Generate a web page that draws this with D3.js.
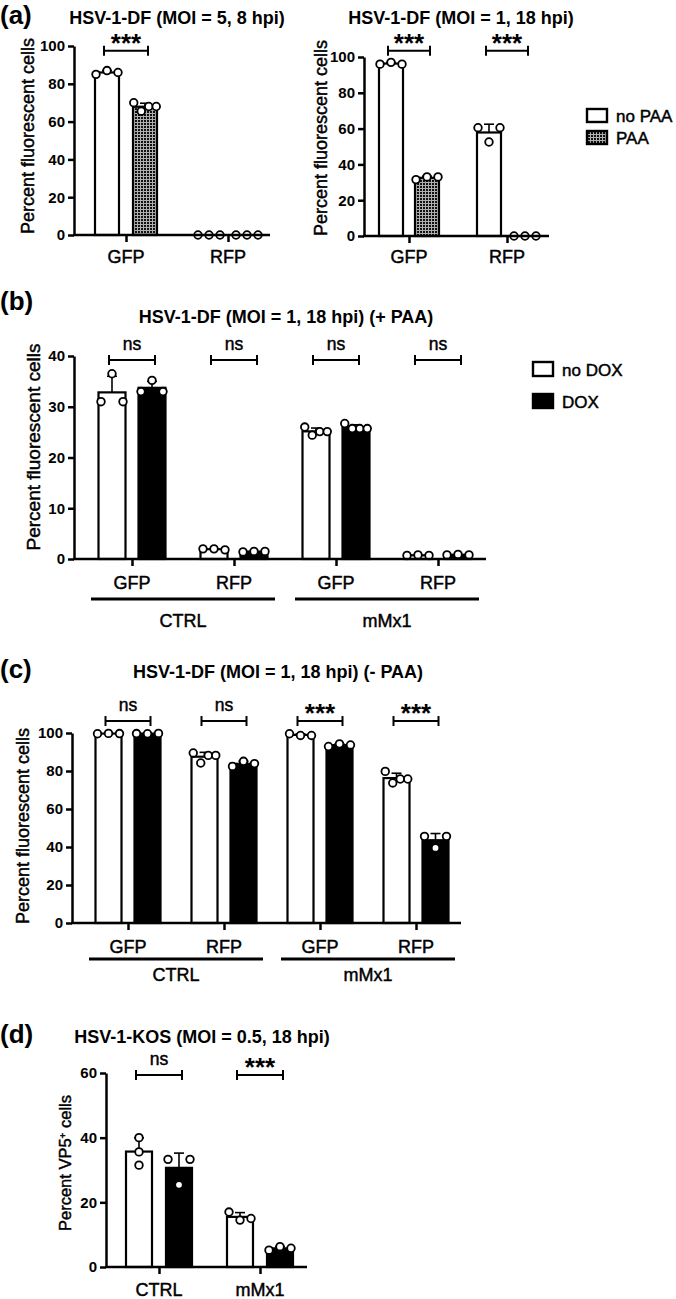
<!DOCTYPE html>
<html>
<head>
<meta charset="utf-8">
<script src="https://cdn.jsdelivr.net/npm/d3@7.9.0/dist/d3.min.js"></script>
<style>
  body { margin: 0; background: #fff; }
  svg { display: block; font-family: "Liberation Sans", Arial, sans-serif; }
  .med { stroke: #000; stroke-width: 0.45px; }
</style>
</head>
<body>
<svg id="fig" width="676" height="1299"></svg>
<script>
// ---------- Data ----------
const paaSeries = ["no PAA", "PAA"];
const doxSeries = ["no DOX", "DOX"];
const reporters = ["GFP", "RFP"];
const cellLines = ["CTRL", "mMx1"];

// (a) HSV-1-DF, MOI 5, 8 hpi  (per reporter: replicate values)
const a1NoPaa = [[85, 87, 86], [0, 0, 0]];
const a1Paa = [[70, 65.5, 68, 68], [0, 0, 0]];
const a1Sig = ["***", null];

// (a) HSV-1-DF, MOI 1, 18 hpi
const a2NoPaa = [[96, 97, 96], [60.5, 52.5, 60.5]];
const a2Paa = [[31.5, 33, 33], [0, 0, 0]];
const a2Sig = ["***", "***"];

// (b) + PAA : CTRL GFP, CTRL RFP, mMx1 GFP, mMx1 RFP
const bNoDox = [[31, 36.5, 31], [2, 2, 1.8], [26, 24.4, 25.1, 25.1], [0.7, 0.8, 0.7]];
const bDox = [[33, 35.2, 33], [1.4, 1.5, 1.5], [26.7, 25.7, 25.7, 25.7], [0.8, 0.9, 0.8]];
const bSig = ["ns", "ns", "ns", "ns"];

// (c) - PAA
const cNoDox = [[99.6, 99.8, 99.7], [89.5, 84.2, 88.2, 88.2], [99.6, 98.7, 98.7], [79.8, 73.7, 75.8, 75.8]];
const cDox = [[99.7, 99.6, 99.8], [82.4, 85.1, 83.9], [92.9, 94.3, 93.7], [45.6, 39.5, 45.6]];
const cSig = ["ns", "ns", "***", "***"];

// (d) HSV-1-KOS, VP5+
const dNoDox = [[40, 35.6, 31.5], [17, 14.5, 15]];
const dDox = [[33.3, 25.4, 33.3], [5.2, 6.3, 5.8]];
const dSig = ["ns", "***"];

const ticks100 = [0, 20, 40, 60, 80, 100];
const ticks40 = [0, 10, 20, 30, 40];
const ticks60 = [0, 20, 40, 60];

// ---------- Setup ----------
const svg = d3.select("#fig");

const defs = svg.append("defs");
const pat = defs.append("pattern")
  .attr("id", "stipple")
  .attr("patternUnits", "userSpaceOnUse")
  .attr("width", 3).attr("height", 3);
pat.append("rect").attr("width", 3).attr("height", 3).attr("fill", "#b0b0b0");
pat.append("rect").attr("width", 2).attr("height", 2).attr("fill", "#111");

const fillPAA = ["#fff", "url(#stipple)"];
const fillDOX = ["#fff", "#000"];

const catIds = cellLines.flatMap(c => reporters.map(r => c + "-" + r));
const catLabels = cellLines.flatMap(() => reporters);

// ---------- Panel ----------
function drawPanel(cfg) {
  const g = svg.append("g");

  const y = d3.scaleLinear().domain(cfg.yDomain).range(cfg.yRange);
  const x = d3.scalePoint().domain(cfg.cats).range(cfg.catRange);
  const half = cfg.bw + cfg.gap / 2;
  const xSub = d3.scaleBand()
    .domain(cfg.series)
    .range([-half, half])
    .paddingInner(cfg.gap / (cfg.bw + cfg.gap));

  // bars
  cfg.series.forEach((s, si) => {
    const rows = cfg.values[si].map((vals, i) => ({
      cat: cfg.cats[i], vals, mean: d3.mean(vals), sd: d3.deviation(vals) || 0
    }));
    const bx = d => x(d.cat) + xSub(s);

    g.append("g").selectAll("rect")
      .data(rows.filter(d => d.mean > 0))
      .join("rect")
      .attr("x", bx)
      .attr("y", d => y(d.mean))
      .attr("width", xSub.bandwidth())
      .attr("height", d => y(0) - y(d.mean))
      .attr("fill", cfg.fills[si])
      .attr("stroke", "#000")
      .attr("stroke-width", 2.2);

    // error bars (mean + SD, upward)
    const eb = g.append("g").attr("stroke", "#000").attr("stroke-width", 1.6);
    rows.filter(d => d.sd > 0.3).forEach(d => {
      const cx = bx(d) + xSub.bandwidth() / 2;
      eb.append("line").attr("x1", cx).attr("x2", cx)
        .attr("y1", y(d.mean)).attr("y2", y(d.mean + d.sd));
      eb.append("line").attr("x1", cx - 5).attr("x2", cx + 5)
        .attr("y1", y(d.mean + d.sd)).attr("y2", y(d.mean + d.sd));
    });

    // replicate points
    const pts = [];
    rows.forEach(d => {
      const cx = bx(d) + xSub.bandwidth() / 2;
      const n = d.vals.length;
      const step = n > 3 ? 7.5 : 11;
      d.vals.forEach((v, k) => {
        const py = y(v);
        const crowded = d.vals.some((w, j) => j !== k && Math.abs(y(w) - py) < 9);
        const off = crowded ? (k - (n - 1) / 2) * step : 0;
        pts.push({ px: cx + off, py });
      });
    });
    g.append("g").selectAll("circle")
      .data(pts)
      .join("circle")
      .attr("cx", d => d.px)
      .attr("cy", d => d.py)
      .attr("r", 3.8)
      .attr("fill", "#fff")
      .attr("stroke", "#000")
      .attr("stroke-width", 1.8);
  });

  // y axis
  const yAxis = g.append("g")
    .attr("transform", `translate(${cfg.axisX},0)`)
    .call(d3.axisLeft(y).tickValues(cfg.yTicks).tickSize(6).tickSizeOuter(0).tickPadding(3));
  yAxis.select(".domain").attr("stroke-width", 2.5);
  yAxis.selectAll(".tick line").attr("stroke-width", 2.5);
  yAxis.selectAll(".tick text")
    .attr("font-size", cfg.tickSize)
    .attr("font-weight", "bold")
    .attr("font-family", "Liberation Sans, Arial, sans-serif")
    .attr("fill", "#000");

  // x axis
  const xAxis = g.append("g")
    .attr("transform", `translate(0,${y(0)})`)
    .call(d3.axisBottom(x).tickSize(7).tickSizeOuter(0).tickFormat(""));
  xAxis.select(".domain").remove();
  xAxis.selectAll(".tick line").attr("stroke-width", 2.5);
  g.append("line")
    .attr("x1", cfg.axisX - 1).attr("x2", cfg.axisEnd)
    .attr("y1", y(0)).attr("y2", y(0))
    .attr("stroke", "#000").attr("stroke-width", 2.5);

  g.append("g").selectAll("text")
    .data(cfg.cats)
    .join("text")
    .attr("class", "med")
    .attr("x", d => x(d))
    .attr("y", cfg.catLabelY)
    .attr("text-anchor", "middle")
    .attr("font-size", cfg.catSize)
    .text((d, i) => cfg.catLabels[i]);

  // significance brackets
  cfg.sig.forEach((lab, i) => {
    if (!lab) return;
    const c = cfg.cats[i];
    const x1 = x(c) + xSub(cfg.series[0]) + xSub.bandwidth() / 2 - 3;
    const x2 = x(c) + xSub(cfg.series[1]) + xSub.bandwidth() / 2 + 3;
    const by = y(cfg.sigY);
    const sg = g.append("g").attr("stroke", "#000").attr("stroke-width", 2);
    sg.append("line").attr("x1", x1).attr("x2", x2).attr("y1", by).attr("y2", by);
    sg.append("line").attr("x1", x1).attr("x2", x1).attr("y1", by - 5).attr("y2", by + 5);
    sg.append("line").attr("x1", x2).attr("x2", x2).attr("y1", by - 5).attr("y2", by + 5);
    const stars = lab === "***";
    g.append("text")
      .attr("class", stars ? null : "med")
      .attr("x", (x1 + x2) / 2)
      .attr("y", stars ? by + 1 : by - 10)
      .attr("text-anchor", "middle")
      .attr("font-size", stars ? 26 : 17.5)
      .attr("font-weight", stars ? "bold" : "normal")
      .text(lab);
  });

  // group lines
  if (cfg.groups) {
    cfg.groups.forEach((grp, gi) => {
      const first = cfg.cats[gi * 2], last = cfg.cats[gi * 2 + 1];
      const x1 = x(first) - cfg.groupExt, x2 = x(last) + cfg.groupExt;
      g.append("line")
        .attr("x1", x1).attr("x2", x2)
        .attr("y1", cfg.groupLineY).attr("y2", cfg.groupLineY)
        .attr("stroke", "#000").attr("stroke-width", 3);
      g.append("text")
        .attr("class", "med")
        .attr("x", (x(first) + x(last)) / 2)
        .attr("y", cfg.groupLabelY)
        .attr("text-anchor", "middle")
        .attr("font-size", cfg.catSize)
        .text(grp);
    });
  }

  // y label
  const yl = g.append("text")
    .attr("class", "med")
    .attr("transform", `translate(${cfg.yLabelX},${cfg.yLabelY}) rotate(-90)`)
    .attr("text-anchor", "middle")
    .attr("font-size", cfg.yLabelSize);
  if (cfg.yLabelSup) {
    yl.append("tspan").text(cfg.yLabel[0]);
    yl.append("tspan").attr("baseline-shift", "super").attr("font-size", cfg.yLabelSize * 0.6).text(cfg.yLabelSup);
    yl.append("tspan").text(cfg.yLabel[1]);
  } else {
    yl.text(cfg.yLabel);
  }

  // title
  g.append("text")
    .attr("x", cfg.titleX).attr("y", cfg.titleY)
    .attr("text-anchor", "middle")
    .attr("font-size", 18)
    .attr("font-weight", "bold")
    .text(cfg.title);
}

function drawLegend(x0, y0, dy, bh, labels, fills) {
  const lg = svg.append("g");
  labels.forEach((lab, i) => {
    lg.append("rect")
      .attr("x", x0).attr("y", y0 + i * dy)
      .attr("width", 20).attr("height", bh)
      .attr("fill", fills[i]).attr("stroke", "#000").attr("stroke-width", 2.4);
    lg.append("text")
      .attr("class", "med")
      .attr("x", x0 + 29).attr("y", y0 + i * dy + bh / 2 + 6.5)
      .attr("font-size", 17)
      .text(lab);
  });
}

function panelLabel(txt, yb) {
  svg.append("text").attr("x", 0).attr("y", yb)
    .attr("font-size", 26).attr("font-weight", "bold").text(txt);
}

// ---------- Draw ----------
const fluor = "Percent fluorescent cells";

drawPanel({
  title: "HSV-1-DF (MOI = 5, 8 hpi)", titleX: 177, titleY: 24,
  yDomain: [0, 100], yRange: [235, 46], yTicks: ticks100, tickSize: 15,
  axisX: 74, axisEnd: 270, cats: reporters, catLabels: reporters, catRange: [126, 228],
  series: paaSeries, values: [a1NoPaa, a1Paa], fills: fillPAA, bw: 24, gap: 14,
  sig: a1Sig, sigY: 97.5, catLabelY: 263, catSize: 18,
  yLabel: fluor, yLabelX: 34, yLabelY: 136, yLabelSize: 18
});

drawPanel({
  title: "HSV-1-DF (MOI = 1, 18 hpi)", titleX: 461, titleY: 24,
  yDomain: [0, 100], yRange: [236, 57], yTicks: ticks100, tickSize: 15,
  axisX: 364, axisEnd: 549, cats: reporters, catLabels: reporters, catRange: [409, 507],
  series: paaSeries, values: [a2NoPaa, a2Paa], fills: fillPAA, bw: 24, gap: 12,
  sig: a2Sig, sigY: 103.5, catLabelY: 263, catSize: 18,
  yLabel: fluor, yLabelX: 327, yLabelY: 138, yLabelSize: 18
});

drawLegend(587, 109, 22, 13, paaSeries, fillPAA);

drawPanel({
  title: "HSV-1-DF (MOI = 1, 18 hpi) (+ PAA)", titleX: 286, titleY: 323,
  yDomain: [0, 40], yRange: [559, 356], yTicks: ticks40, tickSize: 15,
  axisX: 74, axisEnd: 486, cats: catIds, catLabels: catLabels, catRange: [132, 438],
  series: doxSeries, values: [bNoDox, bDox], fills: fillDOX, bw: 27, gap: 13,
  sig: bSig, sigY: 39.2, catLabelY: 589, catSize: 18,
  groups: cellLines, groupExt: 41, groupLineY: 599, groupLabelY: 627,
  yLabel: fluor, yLabelX: 40, yLabelY: 447, yLabelSize: 19
});

drawLegend(533, 362, 32, 14, doxSeries, fillDOX);

drawPanel({
  title: "HSV-1-DF (MOI = 1, 18 hpi) (- PAA)", titleX: 278, titleY: 678,
  yDomain: [0, 100], yRange: [923, 733], yTicks: ticks100, tickSize: 15,
  axisX: 72, axisEnd: 461, cats: catIds, catLabels: catLabels, catRange: [128, 416],
  series: doxSeries, values: [cNoDox, cDox], fills: fillDOX, bw: 26, gap: 13,
  sig: cSig, sigY: 106.3, catLabelY: 953, catSize: 18,
  groups: cellLines, groupExt: 39, groupLineY: 959, groupLabelY: 981,
  yLabel: fluor, yLabelX: 29, yLabelY: 826, yLabelSize: 18
});

drawPanel({
  title: "HSV-1-KOS (MOI = 0.5, 18 hpi)", titleX: 202, titleY: 1043,
  yDomain: [0, 60], yRange: [1267, 1073], yTicks: ticks60, tickSize: 15,
  axisX: 106, axisEnd: 307, cats: cellLines, catLabels: cellLines, catRange: [159, 260],
  series: doxSeries, values: [dNoDox, dDox], fills: fillDOX, bw: 26, gap: 14,
  sig: dSig, sigY: 59.4, catLabelY: 1296, catSize: 18,
  yLabel: ["Percent VP5", " cells"], yLabelSup: "+", yLabelX: 71, yLabelY: 1163, yLabelSize: 16.5
});

panelLabel("(a)", 24);
panelLabel("(b)", 310);
panelLabel("(c)", 678);
panelLabel("(d)", 1043);
</script>
</body>
</html>
